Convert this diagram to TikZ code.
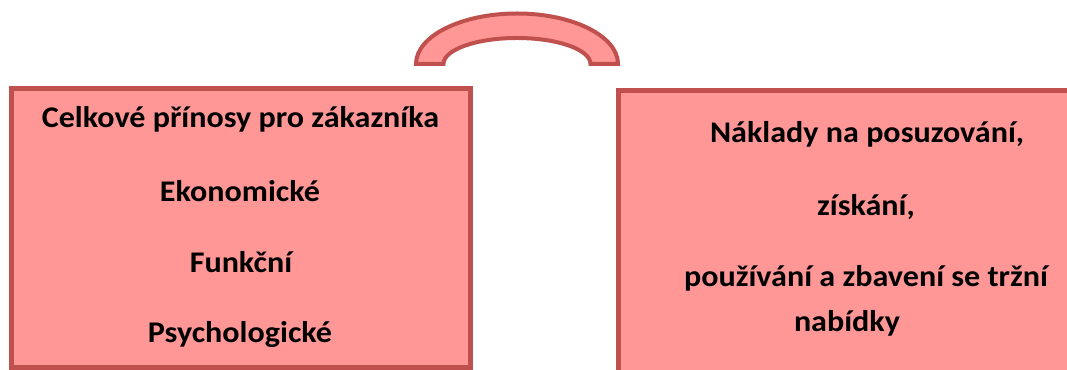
\documentclass[tikz,border=0pt]{standalone}
\usepackage{fontspec}
\setmainfont{Carlito}
\usepackage{tikz}
\usepackage{xcolor}
\definecolor{ruzova}{HTML}{FF9797}
\definecolor{okraj}{HTML}{C0504D}

\begin{document}
\begin{tikzpicture}[x=0.75pt, y=0.75pt,
	box/.style={draw=okraj, line width=3.75pt, fill=ruzova, inner sep=0pt},
	radek/.style={anchor=base, inner sep=0pt, xscale=1.07, transform shape, font=\fontsize{22.5}{27}\selectfont\bfseries}]
	   	\useasboundingbox (0,0) rectangle (1067,370);
	   	%
	   	%Oblouk
	   	\draw[draw=okraj, line width=3pt, fill=ruzova]
	   	(416,306) arc[start angle=180, end angle=0, x radius=101, y radius=50.5]
	   	-- (590.5,306) arc[start angle=0, end angle=180, x radius=73.5, y radius=26] -- cycle;
	   	%
	   	%Prinosy
	   	\node (prinosy) at (240.5,142) [box, minimum width=344.25pt, minimum height=209.25pt] {};
	   	\node (celkove) at (240.5,242) [radek] {Celkové přínosy pro zákazníka};
	   	\node (ekonomicke) at (240,168) [radek] {Ekonomické};
	   	\node (funkcni) at (241,97) [radek] {Funkční};
	   	\node (psycho) at (240,27) [radek] {Psychologické};
	   	%
	   	%Naklady
	   	\node (naklady) at (866,129) [box, minimum width=372pt, minimum height=225pt] {};
	   	\node (posuzovani) at (867,227) [radek] {Náklady na posuzování,};
	   	\node (ziskani) at (866,154) [radek] {získání,};
	   	\node (pouzivani) at (866,83) [radek] {používání a zbavení se tržní};
	   	\node (nabidky) at (847,38) [radek] {nabídky};
\end{tikzpicture}
\end{document}
